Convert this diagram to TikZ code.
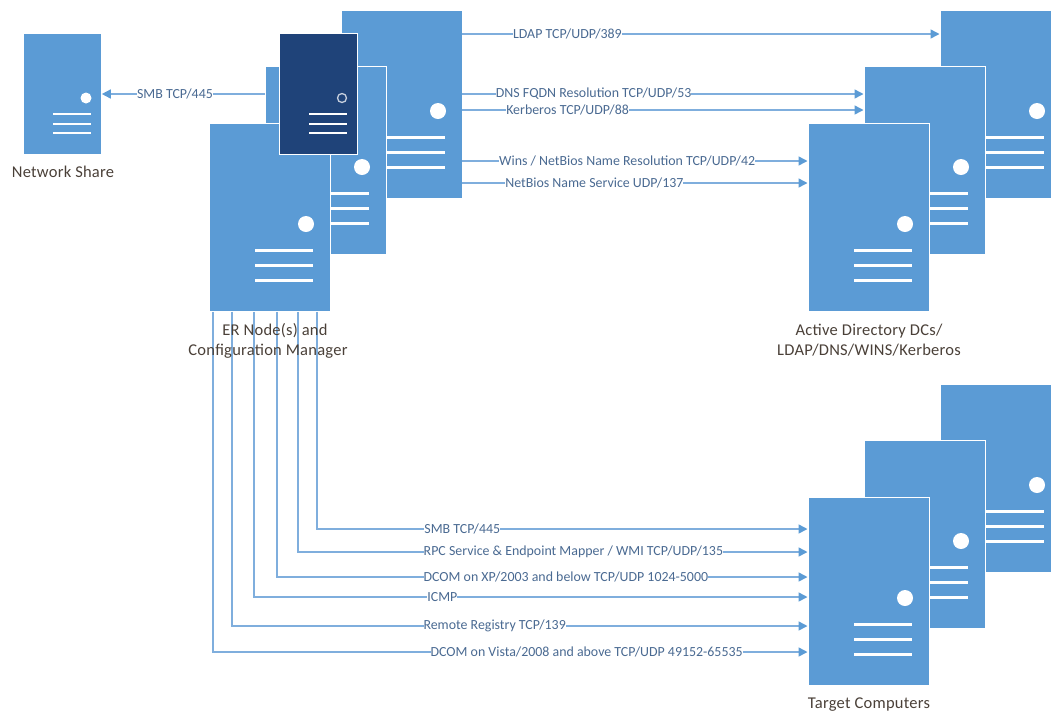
\documentclass[tikz,border=0pt]{standalone}
\usepackage{fontspec}
\usetikzlibrary{arrows.meta}
\setmainfont{Carlito}
\newfontfamily\capfont[LetterSpace=1.5]{Carlito}
\definecolor{srvblue}{HTML}{5B9BD5}
\definecolor{srvdark}{HTML}{1F4379}
\definecolor{linkblue}{HTML}{7FAEDD}
\definecolor{linktext}{HTML}{4A6A92}
\definecolor{captext}{HTML}{4A4038}
\tikzset{
  srvbox/.style={draw=white,line width=.8pt,fill=srvblue,anchor=north west,inner sep=0pt,minimum width=120.5,minimum height=188},
  srvsmall/.style={srvbox,minimum width=77.5,minimum height=121},
  srvnavy/.style={srvsmall,fill=srvdark},
  link/.style={draw=linkblue,line width=1.5pt,-{Triangle[length=9pt,width=9pt,fill=srvblue,color=srvblue]},shorten >=.5pt},
  linklabel/.style={fill=white,text=linktext,font=\fontsize{13.9}{15}\selectfont,inner sep=0pt},
  caption/.style={text=captext,font=\capfont\fontsize{16.5}{20.5}\selectfont,align=center}
}
% big server: box, lamp and three bars
\newcommand{\bigserver}[3]{
  \node[srvbox] (#1) at (#2,#3) {};
  \fill[white] (#2+97,#3+101) circle (8);
  \foreach \b in {127.5,142.5,157.5}
    \draw[white,line width=3.5pt] (#2+46,#3+\b) -- (#2+104,#3+\b);
}
% small server, colour comes from the style
\newcommand{\smallserver}[4]{
  \node[#4] (#1) at (#2,#3) {};
  \foreach \b in {81,91,100}
    \draw[white,line width=2.4pt] (#2+30,#3+\b) -- (#2+68,#3+\b);
}
\begin{document}
\begin{tikzpicture}[x=1pt,y=-1pt]
  \clip (1,1) rectangle (1052,717);
  % network share
  \smallserver{share}{24}{34}{srvsmall}
  \fill[white] (87,99) circle (5.5);
  \node[caption] (sharecap) at (64,173) {Network Share};
  % ER nodes
  \bigserver{erback}{342}{11}
  \bigserver{ermid}{266}{67}
  \bigserver{erfront}{210}{124}
  \smallserver{cfgmgr}{280}{34}{srvnavy}
  \draw[white!75!srvdark,line width=1.3pt] (343,99) circle (4.5);
  % active directory
  \bigserver{adback}{941}{11}
  \bigserver{admid}{865}{67}
  \bigserver{adfront}{809}{124}
  \node[caption] (adcap) at (870,341) {Active Directory DCs/\\LDAP/DNS/WINS/Kerberos};
  % targets
  \bigserver{tgback}{941}{385}
  \bigserver{tgmid}{865}{441}
  \bigserver{tgfront}{809}{498}
  \node[caption] (tgcap) at (870,706) {Target Computers};
  % top links
  \draw[link] (ermid.west |- 0,95) -- node[linklabel,pos=.55] {SMB TCP/445} (share.east |- 0,95);
  \draw[link] (erback.east |- 0,35) -- node[linklabel,pos=.22] {LDAP TCP/UDP/389} (adback.west |- 0,35);
  \draw[link] (erback.east |- 0,95) -- node[linklabel,pos=.327] {DNS FQDN Resolution TCP/UDP/53} (admid.west |- 0,95);
  \draw[link] (erback.east |- 0,111) -- node[linklabel,pos=.262] {Kerberos TCP/UDP/88} (admid.west |- 0,111);
  \draw[link] (erback.east |- 0,162) -- node[linklabel,pos=.477] {Wins / NetBios Name Resolution TCP/UDP/42} (adfront.west |- 0,162);
  \draw[link] (erback.east |- 0,184) -- node[linklabel,pos=.382] {NetBios Name Service UDP/137} (adfront.west |- 0,184);
  % bottom links
  \draw[link] (318,0 |- erfront.south) |- node[linklabel,pos=.648] {SMB TCP/445} (tgfront.west |- 0,530);
  \draw[link] (299,0 |- erfront.south) |- node[linklabel,pos=.77] {RPC Service \& Endpoint Mapper / WMI TCP/UDP/135} (tgfront.west |- 0,553);
  \draw[link] (278,0 |- erfront.south) |- node[linklabel,pos=.772] {DCOM on XP/2003 and below TCP/UDP 1024-5000} (tgfront.west |- 0,578);
  \draw[link] (255,0 |- erfront.south) |- node[linklabel,pos=.67] {ICMP} (tgfront.west |- 0,598);
  \draw[link] (233,0 |- erfront.south) |- node[linklabel,pos=.728] {Remote Registry TCP/139} (tgfront.west |- 0,627);
  \draw[link] (214,0 |- erfront.south) |- node[linklabel,pos=.814] {DCOM on Vista/2008 and above TCP/UDP 49152-65535} (tgfront.west |- 0,653);
  % over the lines
  \node[caption] (ercap) at (269,342) {\hspace*{14pt}ER Node(s) and\\Configuration Manager};
\end{tikzpicture}
\end{document}
